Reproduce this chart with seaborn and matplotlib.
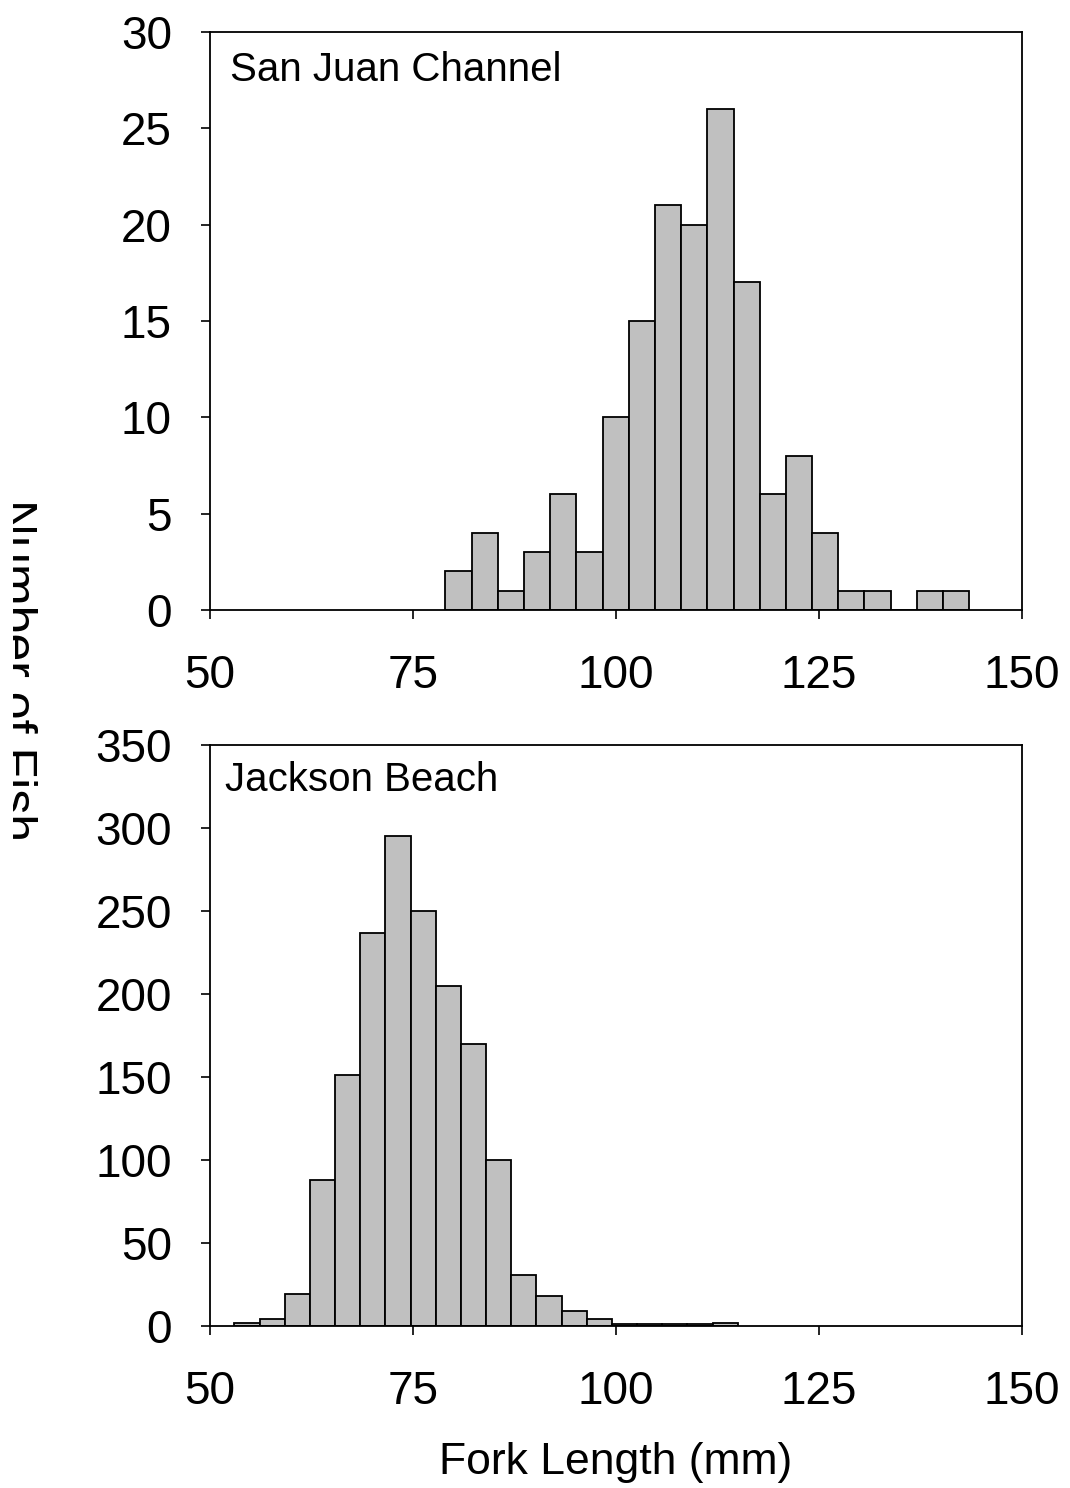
import numpy as np
import pandas as pd
import matplotlib.pyplot as plt
import seaborn as sns
from matplotlib.transforms import Bbox, TransformedBbox

sns.set_style("ticks")
plt.rcParams['font.family'] = ['Liberation Sans', 'DejaVu Sans']
plt.rcParams['text.color'] = 'black'
plt.rcParams['axes.labelcolor'] = 'black'

# San Juan Channel: counts per 3.225 mm bin starting at 79 mm
sjc_start = 79.0
sjc_width = 3.225
sjc_counts = [2, 4, 1, 3, 6, 3, 10, 15, 21, 20, 26, 17, 6, 8, 4, 1, 1, 0, 1, 1]

# Jackson Beach: counts per 3.1 mm bin starting at 53 mm
jb_start = 53.0
jb_width = 3.1
jb_counts = [2, 4, 19, 88, 151, 237, 295, 250, 205, 170, 100, 31, 18, 9, 4, 1, 1, 1, 1, 2]

panels = [
    ("San Juan Channel", sjc_start, sjc_width, sjc_counts, 30, 5),
    ("Jackson Beach", jb_start, jb_width, jb_counts, 350, 50),
]

W, H = 1070, 1488
fig = plt.figure(figsize=(W / 100, H / 100), dpi=100)

# axes boxes in pixels: (left, top, right, bottom)
boxes = [(210, 32, 1022, 610), (210, 745, 1022, 1326)]
label_pos = [(0.0246, 0.915), (0.0185, 0.921)]

for i, (name, start, width, counts, ymax, ystep) in enumerate(panels):
    l, t, r, b = boxes[i]
    ax = fig.add_axes([l / W, 1 - b / H, (r - l) / W, (b - t) / H])
    edges = [start + width * k for k in range(len(counts) + 1)]
    mids = [e + width / 2 for e in edges[:-1]]
    df = pd.DataFrame({"length": mids, "n": counts})
    sns.histplot(data=df, x="length", weights="n", bins=edges, ax=ax,
                 color="#c0c0c0", edgecolor="black", linewidth=1.3, alpha=1)
    ax.set_xlim(50, 150)
    ax.set_ylim(0, ymax)
    ax.set_xticks([50, 75, 100, 125, 150])
    ax.set_yticks(np.arange(0, ymax + 1, ystep))
    ax.set_xlabel("")
    ax.set_ylabel("")
    for s in ax.spines.values():
        s.set_linewidth(1.3)
        s.set_color("black")
    ax.tick_params(axis="both", direction="out", length=6.5, width=1.2,
                   labelsize=33, colors="black")
    ax.tick_params(axis="x", pad=25)
    ax.tick_params(axis="y", pad=21)
    ax.text(label_pos[i][0], label_pos[i][1], name, transform=ax.transAxes,
            fontsize=29, ha="left", va="baseline", color="black")
    if i == 1:
        ax.set_xlabel("Fork Length (mm)", fontsize=32, labelpad=20, color="black")

ylab = fig.text(37 / W, 1 - 670 / H, "Number of Fish", rotation=-90,
                ha="right", va="center", fontsize=36, color="black")
ylab.set_clip_box(TransformedBbox(Bbox([[13 / W, 0], [1, 1]]), fig.transFigure))
ylab.set_clip_on(True)

plt.savefig("out.png", dpi=100)
